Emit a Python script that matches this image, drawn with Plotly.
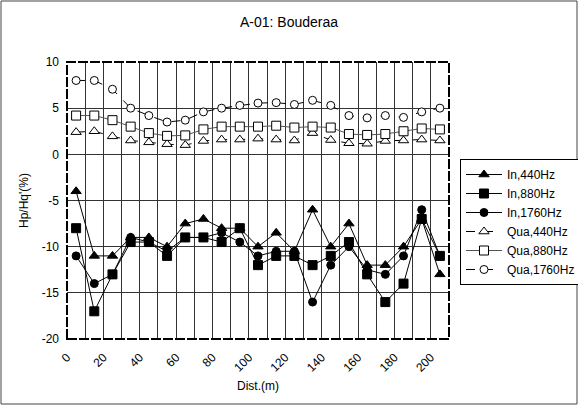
import plotly.graph_objects as go

dist = [5, 15, 25, 35, 45, 55, 65, 75, 85, 95, 105, 115, 125, 135, 145, 155, 165, 175, 185, 195, 205]
in_440 = [-4, -11, -11, -9, -9, -10, -7.5, -7, -8, -8, -10, -8.5, -10.5, -6, -10, -7.5, -12, -12, -10, -7, -13]
in_880 = [-8, -17, -13, -9.5, -9.5, -11, -9, -9, -9.5, -8, -12, -11, -11, -12, -11, -9.5, -13, -16, -14, -7, -11]
in_1760 = [-11, -14, -13, -9, -9.5, -10.5, -9, -9, -8.5, -9.5, -11, -10.5, -10.5, -16, -12, -10, -12.5, -13, -11, -6, -11]
qua_440 = [2.4, 2.5, 1.95, 1.5, 1.3, 1.1, 1.0, 1.45, 1.6, 1.6, 1.7, 1.6, 1.5, 2.3, 1.55, 1.2, 1.15, 1.45, 1.5, 1.6, 1.5]
qua_880 = [4.2, 4.2, 3.7, 3.0, 2.3, 2.0, 2.05, 2.7, 3.0, 3.0, 3.0, 3.1, 2.9, 3.0, 2.9, 2.2, 2.1, 2.2, 2.5, 2.8, 2.7]
qua_1760 = [8.0, 8.0, 7.05, 5.0, 4.2, 3.5, 3.7, 4.6, 5.0, 5.3, 5.55, 5.6, 5.4, 5.85, 5.3, 4.2, 3.95, 4.2, 4.0, 4.6, 5.0]

x_ticks = [0, 20, 40, 60, 80, 100, 120, 140, 160, 180, 200]
y_ticks = [-20, -15, -10, -5, 0, 5, 10]

FONT = "Liberation Sans, Arial, sans-serif"

series = [
    ("In,440Hz", in_440, "triangle-up", "black", "black", "solid", "black"),
    ("In,880Hz", in_880, "square", "black", "black", "solid", "black"),
    ("In,1760Hz", in_1760, "circle", "black", "black", "solid", "black"),
    ("Qua,440Hz", qua_440, "triangle-up", "white", "black", "dash", "black"),
    ("Qua,880Hz", qua_880, "square", "white", "black", "solid", "#555555"),
    ("Qua,1760Hz", qua_1760, "circle", "white", "black", "dash", "black"),
]

fig = go.Figure()
for name, vals, sym, fill, mline, dash, lcol in series:
    fig.add_trace(go.Scatter(
        x=dist, y=vals, name=name, mode="lines+markers",
        line=dict(color=lcol, width=1, dash=dash),
        marker=dict(symbol=sym, size=9 if "circle" not in sym else 8,
                    color=fill, line=dict(color=mline, width=1)),
    ))

W, H = 578, 405
L, R, T, B = 67, 129, 62, 66
pw, ph = W - L - R, H - T - B

fig.update_layout(
    width=W, height=H,
    margin=dict(l=L, r=R, t=T, b=B, autoexpand=False),
    paper_bgcolor="white", plot_bgcolor="white",
    font=dict(family=FONT, size=12, color="black"),
    title=dict(text="A-01: Bouderaa", x=0.5, xanchor="center", y=1 - 22 / H, yanchor="middle",
               font=dict(family=FONT, size=14, color="black")),
    showlegend=True,
    legend=dict(x=(460 - L) / pw, y=(H - B - 159) / ph, xanchor="left", yanchor="top",
                bgcolor="white", bordercolor="black", borderwidth=1,
                font=dict(family=FONT, size=12, color="black"),
                tracegroupgap=0, itemwidth=36),
    xaxis=dict(range=[0, 210], tickvals=x_ticks, ticktext=[str(v) for v in x_ticks],
               tickangle=-45, showgrid=True, gridcolor="#333333", gridwidth=1,
               minor=dict(dtick=10, tick0=0, showgrid=True, gridcolor="#333333", gridwidth=1),
               zeroline=False, showline=False, ticks="", ticklabelstandoff=8,
               title=dict(text="Dist.(m)", font=dict(family=FONT, size=12), standoff=8),
               tickfont=dict(family=FONT, size=12)),
    yaxis=dict(range=[-20, 10], tickvals=y_ticks, ticktext=[str(v) for v in y_ticks],
               showgrid=True, gridcolor="#333333", gridwidth=1,
               zeroline=False, showline=False, ticks="", ticklabelstandoff=7,
               title=dict(text="Hp/Hq'(%)", font=dict(family=FONT, size=12), standoff=10),
               tickfont=dict(family=FONT, size=12)),
    shapes=[
        dict(type="rect", xref="paper", yref="paper", x0=0, x1=1, y0=0, y1=1,
             line=dict(color="black", width=2, dash="10px,2px"), layer="above"),
        dict(type="rect", xref="paper", yref="paper",
             x0=(1 - L) / pw, x1=(W - 1 - L) / pw,
             y0=(H - B - (H - 1)) / ph, y1=(H - B - 1) / ph,
             line=dict(color="#444444", width=1), layer="above"),
    ],
)

fig.write_html("out.html", config={"displayModeBar": False},
               post_script="document.body.style.margin='0';document.body.style.overflow='hidden';")
